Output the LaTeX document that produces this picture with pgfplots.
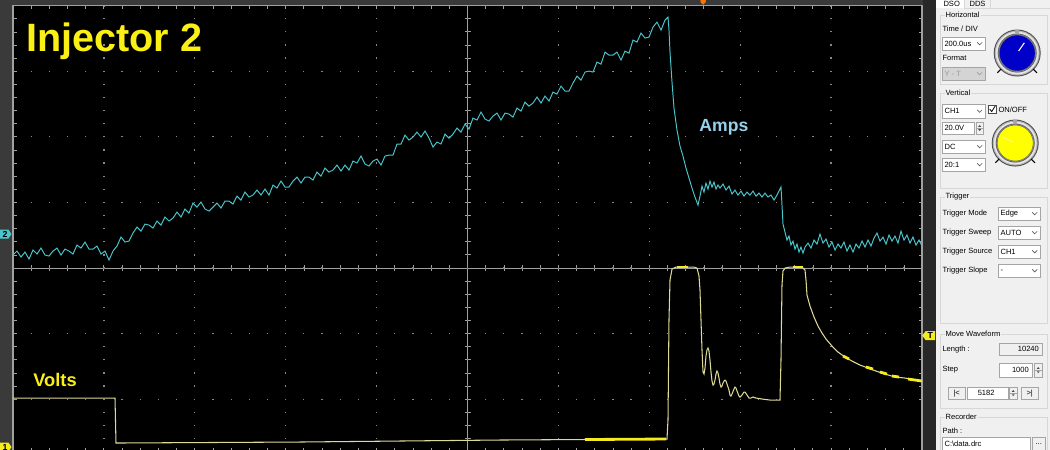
\documentclass[border=0pt]{standalone}
\usepackage{fontspec}
\setmainfont{Liberation Sans}
\usepackage{pgfplots}
\pgfplotsset{compat=1.18}

\definecolor{scopecyan}{RGB}{72,198,204}
\definecolor{scopeyel}{RGB}{222,218,150}
\definecolor{brightyel}{RGB}{245,235,30}
\definecolor{titleyel}{RGB}{250,240,20}
\definecolor{ampsblue}{RGB}{150,208,235}
\definecolor{framec}{RGB}{160,160,160}
\definecolor{gridc}{RGB}{135,135,135}
\definecolor{sidegray}{RGB}{58,58,58}
\definecolor{stripc}{RGB}{40,40,40}
\definecolor{panel}{RGB}{240,240,240}
\definecolor{grpline}{RGB}{215,215,215}
\definecolor{boxline}{RGB}{165,165,165}
\definecolor{knobblue}{RGB}{0,0,200}
\definecolor{knobyel}{RGB}{255,255,0}
\definecolor{ring}{RGB}{178,178,178}

\newcommand{\ptfont}{\fontsize{4.3}{5}\selectfont}
% text in the side panel
\newcommand{\ptxt}[3]{\node[anchor=west, inner sep=0, font=\ptfont] at (#1,#2) {#3};}
% combo box: x1 y1 x2 y2 text
\newcommand{\combo}[5]{%
  \draw[boxline, fill=white, line width=0.3pt] (#1,#2) rectangle (#3,#4);
  \node[anchor=west, inner sep=0, font=\ptfont] at ({#1+2},{(#2+#4)/2}) {#5};
  \draw[black!65, line width=0.35pt] ({#3-8},{(#2+#4)/2-1.2}) -- ({#3-5.5},{(#2+#4)/2+1.3}) -- ({#3-3},{(#2+#4)/2-1.2});}
% group box
\newcommand{\grp}[5]{%
  \draw[grpline, line width=0.4pt] (#1,#2) rectangle (#3,#4);
  \node[anchor=west, fill=panel, inner sep=0.6pt, font=\ptfont] at ({#1+4},#2) {#5};}
% spinner buttons
\newcommand{\spin}[4]{%
  \draw[boxline, fill=panel, line width=0.3pt] (#1,#2) rectangle (#3,#4);
  \draw[boxline, line width=0.3pt] (#1,{(#2+#4)/2}) -- (#3,{(#2+#4)/2});
  \fill[black!70] ({(#1+#3)/2-1.5},{(#2+#4)/2-1.2}) -- ({(#1+#3)/2+1.5},{(#2+#4)/2-1.2}) -- ({(#1+#3)/2},{(#2+#4)/2-3}) -- cycle;
  \fill[black!70] ({(#1+#3)/2-1.5},{(#2+#4)/2+1.2}) -- ({(#1+#3)/2+1.5},{(#2+#4)/2+1.2}) -- ({(#1+#3)/2},{(#2+#4)/2+3}) -- cycle;}
% knob
\newcommand{\knob}[3]{%
  \fill[black!70] (#1,#2) circle (0.47cm);
  \fill[ring] (#1,#2) circle (0.45cm);
  \draw[white!80!gray, line width=1pt] (#1,#2) circle (0.41cm);
  \draw[gray!80!black, line width=0.5pt] (#1,#2) circle (0.38cm);
  \fill[#3] (#1,#2) circle (0.36cm);
  \draw[black!60, line width=0.3pt] (#1,#2) circle (0.36cm);
  \fill[gray!70] ([shift={(85:0.40cm)}]#1,#2) rectangle ([shift={(95:0.47cm)}]#1,#2);
  \draw[black, line width=0.6pt] ([shift={(225:0.45cm)}]#1,#2) -- ([shift={(225:0.56cm)}]#1,#2);
  \draw[black, line width=0.6pt] ([shift={(315:0.45cm)}]#1,#2) -- ([shift={(315:0.56cm)}]#1,#2);}

\begin{document}
\begin{tikzpicture}
\useasboundingbox (0,0) rectangle (21cm,-9cm);
\clip (0,0) rectangle (21cm,-9cm);

% screen background, margins and centre cross
\begin{scope}[x=0.02cm, y=-0.02cm]
  \fill[black] (0,0) rectangle (1050,450);
  \fill[sidegray] (0,0) rectangle (12.5,450);
  \fill[sidegray] (0,0) rectangle (936,5);
  \fill[stripc] (923,0) rectangle (936,450);
  \draw[framec, line width=0.6pt] (467.5,5.6) -- (467.5,452);
  \draw[framec, line width=0.6pt] (13,268) -- (922,268);
  \foreach \i in {0,...,50}
    \draw[framec, line width=0.5pt] ({13+\i*18.18},265) -- ({13+\i*18.18},271);
  \foreach \j in {0,...,34}
    \draw[framec, line width=0.5pt] (464.5,{5.6+\j*13.12}) -- (470.5,{5.6+\j*13.12});
\end{scope}

\begin{axis}[
    at={(0.26cm,-9.034cm)}, anchor=south west,
    width=18.18cm, height=8.92cm, scale only axis,
    xmin=0, xmax=10, ymin=-2.8, ymax=4,
    % readings were taken in screen pixels; convert to divisions
    x filter/.expression={(x-13)/90.9},
    y filter/.expression={(268-y)/65.6},
    axis line style={draw=framec, line width=0.8pt},
    xtick={0,...,10}, ytick={-2,...,4},
    minor x tick num=4, minor y tick num=4,
    xticklabels={}, yticklabels={},
    tick align=inside,
    major tick length=0.07cm, minor tick length=0.07cm,
    tick style={framec, line width=0.5pt},
    grid=major,
    x grid style={gridc, line width=0.7pt, dash pattern=on 0.7pt off 6.766pt, dash phase=0.35pt},
    y grid style={gridc, line width=0.7pt, dash pattern=on 0.7pt off 9.645pt, dash phase=0.35pt},
  ]
  % Amps (channel 2)
  \addplot[scopecyan, line width=0.55pt] coordinates {
    (13,255)(17,251)(21,257)(25,252)(29,259)(33,250)(37,254)(41,248)(45,255)(49,256)
    (53,251)(57,248)(61,255)(65,249)(69,251)(73,254)(77,245)(81,248)(85,242)(89,249)
    (93,249)(97,246)(101,254)(105,251)(109,260)(113,251)(117,246)(121,237)(125,242)(129,241)
    (133,233)(137,227)(141,231)(145,224)(149,225)(153,228)(157,221)(161,225)(165,217)(169,221)
    (173,218)(177,212)(181,217)(185,209)(189,213)(193,203)(197,207)(201,202)(205,209)(209,211)
    (213,207)(217,203)(221,208)(225,201)(229,201)(233,204)(237,196)(241,200)(245,192)(249,197)
    (253,195)(257,190)(261,195)(265,189)(269,195)(273,185)(277,188)(281,181)(285,187)(289,187)
    (293,181)(297,177)(301,183)(305,177)(309,177)(313,180)(317,172)(321,176)(325,168)(329,172)
    (333,170)(337,165)(341,171)(345,165)(349,170)(353,161)(357,163)(361,156)(365,164)(369,166)
    (373,161)(377,159)(381,165)(385,156)(389,155)(393,155)(397,144)(401,144)(405,135)(409,140)
    (413,137)(417,132)(421,137)(425,131)(429,138)(433,147)(437,142)(441,144)(445,134)(449,138)
    (453,134)(457,128)(461,132)(465,124)(469,129)(473,118)(477,120)(481,112)(485,119)(489,121)
    (493,116)(497,113)(501,120)(505,113)(509,114)(513,117)(517,108)(521,111)(525,102)(529,106)
    (533,103)(537,97)(541,103)(545,96)(549,101)(553,92)(557,94)(561,86)(565,91)(569,91)
    (573,83)(577,76)(581,80)(585,72)(589,71)(593,72)(597,62)(601,64)(605,52)(609,55)
    (613,55)(617,52)(621,60)(625,51)(629,53)(633,40)(637,42)(641,33)(645,38)(649,37)
    (653,27)(657,22)(661,30)(665,20)(668,17)
    (669,30)(670,52)(672,82)(674,108)(677,130)(680,146)(683,156)(686,168)(689,178)(692,188)
    (695,197)(698,205)(700,196)(702,186)(704,192)(706,183)(708,189)(710,181)(712,187)(714,182)
    (716,189)(718,185)(720,188)(723,184)(726,190)(729,186)(732,194)(735,190)(738,195)(741,191)
    (744,196)(747,192)(750,195)(753,191)(756,196)(759,193)(762,197)(765,193)(768,197)(771,195)
    (774,200)(777,195)(779,191)(781,187)(782,205)(783,224)(785,232)(787,240)(789,236)(791,245)
    (793,241)(795,249)(797,244)(799,252)(801,247)(803,253)(805,247)(808,243)(811,248)(814,240)
    (817,244)(820,234)(823,243)(826,239)(829,247)(832,242)(835,250)(838,244)(841,248)(844,242)
    (847,251)(850,245)(853,252)(856,244)(859,248)(862,241)(865,247)(868,240)(871,246)(874,238)
    (877,233)(880,241)(883,237)(886,244)(889,235)(892,241)(895,236)(898,243)(901,231)(904,240)
    (907,235)(910,243)(913,237)(916,245)(919,240)(922,246)
  };
  % Volts (channel 1)
  \addplot[scopeyel, line width=0.6pt] coordinates {
    (13,398)(115,398)(116,443)(300,442)(500,440)(667,439)(668,420)(669,320)(670,280)(672,269)
    (676,267)(694,267)(697,268)(699,276)(700,290)(701,320)(702,350)(703,372)(704,374)(705,368)
    (706,356)(707,350)(708,348)(709,351)(710,360)(711,372)(712,381)(713,385)(714,384)(715,380)
    (716,374)(717,371)(718,373)(719,378)(720,384)(721,387)(722,386)(723,383)(724,381)(725,380)
    (726,381)(727,384)(729,390)(730,395)(731,396)(732,394)(734,389)(735,387)(736,388)(737,391)
    (739,396)(740,397)(742,395)(744,392)(745,392)(747,395)(749,398)(751,398)(753,397)(756,398)
    (762,399)(770,400)(780,400)(781,360)(782,285)(783,271)(785,268)(790,267)(802,267)
    (805,270)(806,280)(807,295)(810,306)(814,317)(818,326)(822,333)(826,339)(832,346)(838,352)
    (845,357)(852,361)(860,365)(868,368)(876,371)(885,374)(895,377)(905,378)(915,380)(922,381)
  };
  % brighter, thicker stretches of the yellow trace
  \addplot[brightyel, line width=1.6pt] coordinates {(585,439.5)(666,439)};
  \addplot[brightyel, line width=1.6pt] coordinates {(677,267)(688,267)};
  \addplot[brightyel, line width=1.6pt] coordinates {(793,267)(803,267)};
  \addplot[brightyel, line width=1.6pt] coordinates {(843,356)(849,359)};
  \addplot[brightyel, line width=1.6pt] coordinates {(866,367)(873,369)};
  \addplot[brightyel, line width=1.6pt] coordinates {(880,372)(887,374)};
  \addplot[brightyel, line width=1.6pt] coordinates {(892,376)(899,377)};
  \addplot[brightyel, line width=1.6pt] coordinates {(908,379)(922,381)};
\end{axis}

\begin{scope}[x=0.02cm, y=-0.02cm]
  % labels on the screen
  \node[anchor=base west, inner sep=0, text=titleyel, font=\fontsize{22.5}{27}\selectfont\bfseries] at (26,51) {Injector 2};
  \node[anchor=base west, inner sep=0, text=ampsblue, font=\fontsize{10}{12}\selectfont\bfseries] at (699,131) {Amps};
  \node[anchor=base west, inner sep=0, text=titleyel, font=\fontsize{10.4}{12}\selectfont\bfseries] at (33,386) {Volts};

  % channel and trigger markers
  \fill[scopecyan] (0,229.5) -- (8.5,229.5) -- (11.5,234) -- (8.5,238.5) -- (0,238.5) -- cycle;
  \node[inner sep=0, font=\fontsize{5}{5}\selectfont\bfseries] at (5,234) {2};
  \fill[brightyel] (0,442.5) -- (8.5,442.5) -- (11.5,447) -- (8.5,451.5) -- (0,451.5) -- cycle;
  \node[inner sep=0, font=\fontsize{5}{5}\selectfont\bfseries] at (5,447) {1};
  \fill[brightyel] (922,335.5) -- (925.5,331) -- (935,331) -- (935,340) -- (925.5,340) -- cycle;
  \node[inner sep=0, font=\fontsize{5}{5}\selectfont\bfseries] at (930,335.5) {T};
  \fill[orange!90!red] (700.3,0) -- (705.7,0) -- (703,5) -- cycle;
  \fill[orange!90!red] (703,1.2) circle (0.055cm);

  % side panel
  \fill[panel] (936,0) rectangle (1050,450);
  \fill[white] (936,0) rectangle (964,8);
  \draw[grpline, line width=0.4pt] (964,0) -- (964,8) -- (1050,8);
  \draw[grpline, line width=0.4pt] (990,0) -- (990,8);
  \node[anchor=west, inner sep=0, font=\ptfont] at (943,3.6) {DSO};
  \node[anchor=west, inner sep=0, font=\ptfont] at (969,4) {DDS};

  \grp{940}{15}{1047}{84}{Horizontal}
  \ptxt{942}{29}{Time / DIV}
  \combo{942}{37}{985}{50}{200.0us}
  \ptxt{942}{58}{Format}
  \draw[boxline, fill=black!17, line width=0.3pt] (942,67) rectangle (985,80);
  \node[anchor=west, inner sep=0, font=\ptfont, text=black!40] at (944,73.5) {Y - T};
  \draw[black!40, line width=0.35pt] (977,72.3) -- (979.5,74.8) -- (982,72.3);
  \knob{1017}{53}{knobblue}
  \draw[white, line width=0.6pt] ([shift={(55:0.05cm)}]1017,53) -- ([shift={(55:0.25cm)}]1017,53);

  \grp{940}{93}{1047}{188}{Vertical}
  \combo{942}{104}{985}{118}{CH1}
  \draw[black!70, fill=white, line width=0.3pt] (988,105) rectangle (996,113);
  \draw[black, line width=0.45pt] (989.5,109) -- (991.5,111.5) -- (995,106);
  \ptxt{998}{109.5}{ON/OFF}
  \draw[boxline, fill=white, line width=0.3pt] (942,122) rectangle (974,134);
  \ptxt{944}{128}{20.0V}
  \spin{976}{122}{983}{134}
  \combo{942}{140}{985}{153}{DC}
  \combo{942}{158}{985}{171}{20:1}
  \knob{1015}{143}{knobyel}
  \draw[white!60!yellow, line width=0.5pt] ([shift={(155:0.05cm)}]1015,143) -- ([shift={(155:0.28cm)}]1015,143);

  \grp{940}{197}{1047}{323}{Trigger}
  \ptxt{942}{213}{Trigger Mode}
  \combo{998}{207}{1040}{220}{Edge}
  \ptxt{942}{232.5}{Trigger Sweep}
  \combo{998}{226}{1040}{239}{AUTO}
  \ptxt{942}{251.5}{Trigger Source}
  \combo{998}{245}{1040}{258}{CH1}
  \ptxt{942}{270.5}{Trigger Slope}
  \draw[boxline, fill=white, line width=0.3pt] (998,264) rectangle (1040,277);
  \node[anchor=base west, inner sep=0, font=\ptfont] at (1000,272.5) {-};
  \draw[black!65, line width=0.35pt] (1032,269.3) -- (1034.5,271.8) -- (1037,269.3);

  \grp{940}{334}{1047}{408}{Move Waveform}
  \ptxt{942}{349}{Length :}
  \draw[boxline, fill=black!6, line width=0.3pt] (999,343) rectangle (1042,355);
  \node[anchor=east, inner sep=0, font=\ptfont] at (1039,349) {10240};
  \ptxt{942}{370}{Step}
  \draw[boxline, fill=white, line width=0.3pt] (999,363) rectangle (1032,377);
  \node[anchor=east, inner sep=0, font=\ptfont] at (1029,370) {1000};
  \spin{1034}{363}{1042}{377}
  \draw[boxline, fill=panel, line width=0.3pt] (948,387) rectangle (965,399);
  \node[inner sep=0, font=\ptfont] at (956.5,393) {|<};
  \draw[boxline, fill=white, line width=0.3pt] (967,387) rectangle (1008,399);
  \node[inner sep=0, font=\ptfont] at (986,393) {5182};
  \spin{1009}{387}{1017}{399}
  \draw[boxline, fill=panel, line width=0.3pt] (1021,387) rectangle (1038,399);
  \node[inner sep=0, font=\ptfont] at (1029.5,393) {>|};

  \grp{940}{417}{1047}{470}{Recorder}
  \ptxt{942}{431}{Path :}
  \draw[boxline, fill=white, line width=0.3pt] (942,437) rectangle (1030,452);
  \node[anchor=west, inner sep=0, font=\ptfont] at (944,444) {C:\textbackslash data.drc};
  \draw[boxline, fill=panel, line width=0.3pt] (1032,437) rectangle (1045,452);
  \node[inner sep=0, font=\ptfont] at (1038.5,444) {...};
\end{scope}
\end{tikzpicture}
\end{document}
